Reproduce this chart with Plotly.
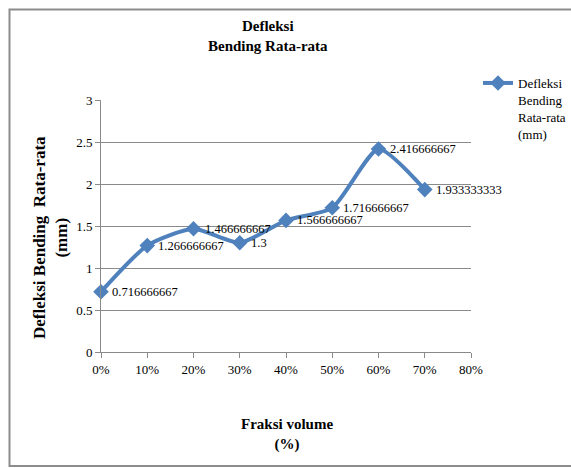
import plotly.graph_objects as go

# Volume fraction (%) and average bending deflection (mm)
fraksi_volume = [0, 10, 20, 30, 40, 50, 60, 70]
defleksi = [0.716666667, 1.266666667, 1.466666667, 1.3,
            1.566666667, 1.716666667, 2.416666667, 1.933333333]
label_text = ["0.716666667", "1.266666667", "1.466666667", "1.3",
              "1.566666667", "1.716666667", "2.416666667", "1.933333333"]
x_ticks = [0, 10, 20, 30, 40, 50, 60, 70, 80]
y_ticks = [0, 0.5, 1, 1.5, 2, 2.5, 3]

BLUE = "#4F81BD"
GRID = "#8a8a8a"
SERIF = "Liberation Serif"

fig = go.Figure()
fig.add_trace(go.Scatter(
    x=fraksi_volume,
    y=defleksi,
    mode="lines+markers",
    line=dict(color=BLUE, width=4, shape="spline", smoothing=0.6),
    marker=dict(symbol="diamond", size=12, color=BLUE),
    name="Defleksi<br>Bending<br>Rata-rata<br>(mm)",
    showlegend=True,
    cliponaxis=False,
))

# Value labels to the right of each point
for xv, yv, lbl in zip(fraksi_volume, defleksi, label_text):
    fig.add_annotation(
        x=xv, y=yv, text=lbl,
        xanchor="left", yanchor="middle",
        xshift=9, showarrow=False,
        font=dict(family=SERIF, size=12.5, color="black"),
    )

fig.update_layout(
    width=571,
    height=468,
    margin=dict(l=101, r=100, t=100, b=116, autoexpand=False),
    paper_bgcolor="white",
    plot_bgcolor="white",
    font=dict(family=SERIF, size=13, color="black"),
    showlegend=True,
    legend=dict(
        xref="container", yref="container",
        x=478 / 571, y=1 - 68 / 468, xanchor="left", yanchor="top",
        valign="top",
        font=dict(family=SERIF, size=13, color="black"),
        bgcolor="rgba(0,0,0,0)",
    ),
    xaxis=dict(
        range=[0, 80],
        tickvals=x_ticks,
        ticktext=[f"{v}%" for v in x_ticks],
        showgrid=False,
        zeroline=False,
        showline=True,
        linecolor=GRID,
        linewidth=1,
        ticks="outside",
        ticklen=5,
        tickcolor=GRID,
        tickfont=dict(family=SERIF, size=13),
    ),
    yaxis=dict(
        range=[0, 3],
        tickvals=y_ticks,
        ticktext=[f"{v:g}" for v in y_ticks],
        showgrid=True,
        gridcolor=GRID,
        gridwidth=1,
        zeroline=False,
        showline=True,
        linecolor=GRID,
        linewidth=1,
        ticks="outside",
        ticklen=5,
        tickcolor=GRID,
        tickfont=dict(family=SERIF, size=13),
    ),
)

# Chart title
fig.add_annotation(
    text="<b>Defleksi</b><br><b>Bending Rata-rata</b>",
    xref="paper", yref="paper",
    x=0.451, y=(352 - 36) / 252,
    xanchor="center", yanchor="middle",
    showarrow=False,
    font=dict(family=SERIF, size=15),
)

# Axis titles
fig.add_annotation(
    text="<b>Fraksi volume</b><br><b>(%)</b>",
    xref="paper", yref="paper",
    x=0.503, y=(352 - 434) / 252,
    xanchor="center", yanchor="middle",
    showarrow=False,
    font=dict(family=SERIF, size=15),
)
fig.add_annotation(
    text="<b>Defleksi Bending  Rata-rata</b><br><b>(mm)</b>",
    xref="paper", yref="paper",
    x=(50 - 101) / 370, y=(352 - 238) / 252,
    xanchor="center", yanchor="middle",
    textangle=-90,
    showarrow=False,
    font=dict(family=SERIF, size=17),
)

# Chart-area border
fig.add_shape(
    type="rect",
    xref="paper", yref="paper",
    x0=(9.5 - 101) / 370, x1=(580 - 101) / 370,
    y0=(352 - 466) / 252, y1=(352 - 9.5) / 252,
    line=dict(color="#8c8c8c", width=2),
    fillcolor="rgba(0,0,0,0)",
    layer="below",
)

fig.write_html("out.html")
